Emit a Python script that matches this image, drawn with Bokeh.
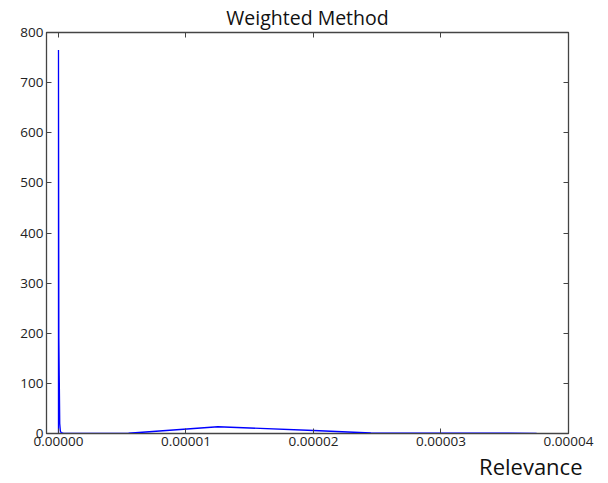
from bokeh.plotting import figure
from bokeh.models import (Range1d, FixedTicker, PrintfTickFormatter, LinearAxis, Title)
from bokeh.embed import file_html
from bokeh.resources import INLINE

# data
relevance = [0.0, 0.0, 0.00000003, 0.00000006, 0.0000001, 0.00000015, 0.0000002,
             0.0000004, 0.0000055, 0.0000125, 0.00002, 0.0000245, 0.0000375]
density = [0.0, 765.0, 190.0, 115.0, 20.0, 5.0, 2.0,
           0.3, 0.5, 13.5, 6.0, 1.0, 0.4]
x_ticks = [0.0, 0.00001, 0.00002, 0.00003, 0.00004]
y_ticks = [0, 100, 200, 300, 400, 500, 600, 700, 800]

FONT = "Open Sans"

p = figure(frame_width=522, frame_height=401, output_backend="svg", toolbar_location=None,
           x_range=Range1d(-0.00000094, 0.00004), y_range=Range1d(0, 800),
           min_border_left=46, min_border_right=30, min_border_top=5,
           min_border_bottom=10, title="Weighted Method")
p.title.align = "center"
p.title.text_font = FONT
p.title.text_font_size = "19.5px"
p.title.text_font_style = "normal"
p.title.text_color = "#111111"
p.title.standoff = 3

p.line(relevance, density, line_color="#0000ff", line_width=1.3)

p.grid.visible = False
p.outline_line_color = "#444444"
p.outline_line_width = 1.3
p.background_fill_color = "white"
p.border_fill_color = "white"

for ax in p.xaxis:
    ax.ticker = FixedTicker(ticks=x_ticks)
    ax.formatter = PrintfTickFormatter(format="%.5f")
for ax in p.yaxis:
    ax.ticker = FixedTicker(ticks=y_ticks)

for ax in p.xaxis + p.yaxis:
    ax.major_tick_in = 5
    ax.major_tick_out = 0
    ax.minor_tick_line_color = None
    ax.axis_line_color = "#444444"
    ax.major_tick_line_color = "#444444"
    ax.major_label_text_font = FONT
    ax.major_label_text_font_size = "13.5px"
    ax.major_label_text_color = "#222222"
    ax.major_label_standoff = 3

top = LinearAxis(ticker=FixedTicker(ticks=x_ticks), major_label_text_font_size="0px",
                 major_tick_in=5, major_tick_out=0, minor_tick_line_color=None,
                 axis_line_color="#444444", major_tick_line_color="#444444",
                 major_label_standoff=0)
right = LinearAxis(ticker=FixedTicker(ticks=y_ticks), major_label_text_font_size="0px",
                   major_tick_in=5, major_tick_out=0, minor_tick_line_color=None,
                   axis_line_color="#444444", major_tick_line_color="#444444")
p.add_layout(top, "above")
p.add_layout(right, "right")

xl = Title(text="Relevance", align="right", offset=-14, standoff=0, text_font=FONT,
           text_font_size="22px", text_font_style="normal", text_color="#111111")
p.add_layout(xl, "below")

open("out.html", "w").write(file_html(p, INLINE))
